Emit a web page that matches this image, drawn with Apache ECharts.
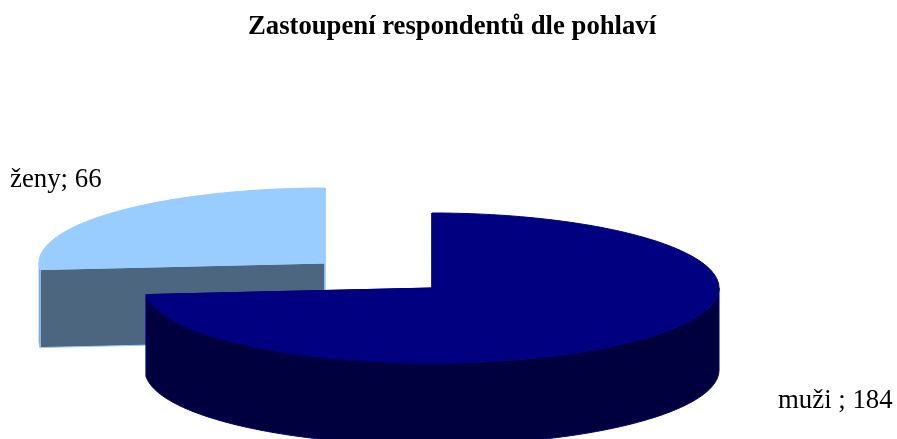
<!DOCTYPE html>
<html>
<head>
<meta charset="utf-8">
<title>Zastoupení respondentů dle pohlaví</title>
<script src="https://cdn.jsdelivr.net/npm/echarts@6/dist/echarts.min.js"></script>
<style>
  html, body { margin: 0; padding: 0; background: #fff; }
  #chart { width: 897px; height: 439px; }
</style>
</head>
<body>
<div id="chart"></div>
<script>
const chartTitle = 'Zastoupení respondentů dle pohlaví';
const categories = ['muži ', 'ženy'];
const values = [184, 66];

// look of each slice, same order as categories
const centers = [[432, 288], [325, 263]];
const radiusX = [287, 286];
const radiusY = 75;
const depths = [82, 78];
const topColors = ['#000080', '#99CCFF'];
const sideColors = ['#00003F', '#4D6680'];
const labelPos = [[778, 401], [10, 180]];
const layers = [2, 1]; // ženy sits behind muži

const total = values.reduce((a, b) => a + b, 0);

// angle is clockwise from 12 o'clock
const rimPoint = (i, angle) => [
  centers[i][0] + radiusX[i] * Math.sin(angle),
  centers[i][1] - radiusY * Math.cos(angle)
];

const arcPoints = (i, from, to) => {
  const pts = [];
  const steps = Math.max(2, Math.ceil(Math.abs(to - from) / (Math.PI / 180)));
  for (let s = 0; s <= steps; s++) {
    pts.push(rimPoint(i, from + (to - from) * s / steps));
  }
  return pts;
};

const shifted = (pts, dy) => pts.map(p => [p[0], p[1] + dy]);

const renderSlice = (params, api) => {
  const i = params.dataIndex;
  let before = 0;
  for (let k = 0; k < i; k++) before += values[k];
  const start = before / total * Math.PI * 2;
  const end = (before + api.value(0)) / total * Math.PI * 2;
  const center = centers[i];
  const depth = depths[i];
  const z2 = layers[i] * 10;

  const wall = (points, z) => ({
    type: 'polygon',
    z2: z,
    shape: { points },
    style: { fill: sideColors[i], stroke: topColors[i], lineWidth: 1 }
  });

  const children = [];
  // cut faces go first, the rim and the top cover them when they face away
  [start, end].forEach(a => {
    const rim = rimPoint(i, a);
    children.push(wall([center, rim, [rim[0], rim[1] + depth], [center[0], center[1] + depth]], z2));
  });
  // only the front half of the rim is visible
  const frontFrom = Math.max(start, Math.PI / 2);
  const frontTo = Math.min(end, Math.PI * 1.5);
  if (frontTo > frontFrom) {
    const rim = arcPoints(i, frontFrom, frontTo);
    children.push(wall(rim.concat(shifted(rim, depth).reverse()), z2 + 1));
  }
  children.push({
    type: 'polygon',
    z2: z2 + 2,
    shape: { points: [center].concat(arcPoints(i, start, end)) },
    style: { fill: topColors[i], stroke: topColors[i], lineWidth: 1 }
  });
  children.push({
    type: 'text',
    z2: 50,
    x: labelPos[i][0],
    y: labelPos[i][1],
    style: {
      text: categories[i] + '; ' + api.value(0),
      fill: '#000',
      font: '26.8px "Liberation Serif"',
      verticalAlign: 'middle'
    }
  });
  return { type: 'group', children };
};

const myChart = echarts.init(document.getElementById('chart'));
myChart.setOption({
  animation: false,
  backgroundColor: '#fff',
  title: {
    text: chartTitle,
    left: 243,
    top: 9,
    textStyle: {
      fontFamily: 'Liberation Serif',
      fontSize: 26.7,
      fontWeight: 'bold',
      color: '#000'
    }
  },
  series: [
    {
      type: 'custom',
      coordinateSystem: 'none',
      silent: true,
      renderItem: renderSlice,
      data: values
    }
  ]
});
</script>
</body>
</html>
